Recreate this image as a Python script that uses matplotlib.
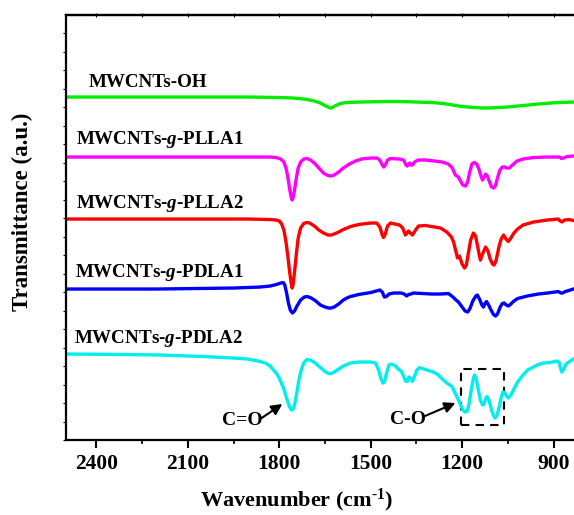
import matplotlib
matplotlib.use("Agg")
import matplotlib.pyplot as plt
from matplotlib.ticker import MultipleLocator
from matplotlib.patches import Rectangle

plt.rcParams['font.family'] = 'Liberation Serif'
plt.rcParams['font.weight'] = 'bold'
plt.rcParams['mathtext.fontset'] = 'custom'
plt.rcParams['mathtext.rm'] = 'Liberation Serif:bold'
plt.rcParams['mathtext.it'] = 'Liberation Serif:italic:bold'
plt.rcParams['mathtext.bf'] = 'Liberation Serif:bold'

# spectra: wavenumber (cm-1) and offset transmittance (a.u.)
wn_oh = [2500, 2300, 2100, 1900, 1800, 1754, 1720, 1690, 1665, 1650, 1640, 1632, 1625, 1615, 1600, 1580, 1534,
         1450, 1400, 1350, 1300, 1261, 1230, 1200, 1160, 1130, 1100, 1050, 1000, 950, 900, 835, 820]
t_oh = [343, 343, 343, 343, 342.5, 342, 341, 339.5, 337, 334.5, 333, 332, 332.5, 334.5, 336.5, 337.5, 338,
        338.5, 338.5, 338, 337.5, 336.5, 335, 333.5, 332.5, 332, 332.2, 333, 334.5, 336, 337.2, 338, 338]

wn_plla1 = [2500, 2200, 1900, 1830, 1810, 1795, 1785, 1778, 1772, 1766, 1761, 1758, 1755, 1750, 1744, 1738, 1730,
            1720, 1710, 1700, 1685, 1670, 1655, 1640, 1630, 1620, 1605, 1590, 1570, 1550, 1530, 1500, 1480, 1470,
            1462, 1457, 1452, 1445, 1435, 1405, 1392, 1384, 1380, 1376, 1372, 1368, 1363, 1356, 1345, 1320, 1290,
            1265, 1245, 1232, 1222, 1217, 1212, 1205, 1198, 1189, 1182, 1175, 1168, 1160, 1152, 1145, 1138, 1133,
            1128, 1123, 1117, 1110, 1103, 1097, 1091, 1084, 1076, 1068, 1060, 1052, 1045, 1035, 1020, 1000, 966,
            920, 880, 874, 868, 855, 835, 820]
t_plla1 = [283, 283, 283, 283, 282.5, 281, 278, 272, 263, 251, 243, 240, 242, 250, 262, 272, 278,
           281, 281.5, 280.5, 277, 272, 267, 264.5, 264, 265, 268, 272, 276, 279, 281, 282, 282, 280,
           275, 273, 275, 280, 281.5, 281, 280, 275, 274, 276, 277, 275, 275, 278, 280, 280, 279,
           278, 276, 272, 265, 264, 263, 259, 255, 254, 258, 268, 276, 277.5, 276, 271, 264, 260,
           263, 266, 264, 258, 253, 252, 254, 262, 270, 273, 273, 272, 272, 275, 279, 281, 282.5,
           283, 283, 281.5, 282, 283.5, 284, 284]

wn_plla2 = [2500, 2200, 1900, 1830, 1810, 1800, 1792, 1785, 1778, 1772, 1766, 1761, 1758, 1755, 1750, 1744, 1738,
            1730, 1720, 1710, 1700, 1685, 1670, 1655, 1640, 1630, 1620, 1605, 1590, 1566, 1540, 1500, 1480, 1470,
            1462, 1458, 1452, 1445, 1435, 1405, 1395, 1386, 1381, 1376, 1370, 1363, 1355, 1343, 1320, 1290, 1271,
            1250, 1235, 1228, 1220, 1215, 1209, 1200, 1192, 1186, 1180, 1172, 1163, 1156, 1150, 1143, 1140, 1133,
            1123, 1115, 1108, 1100, 1095, 1089, 1080, 1072, 1064, 1056, 1048, 1040, 1030, 1018, 1000, 966, 920,
            884, 878, 872, 864, 850, 835, 820]
t_plla2 = [221, 221, 221, 220.5, 220, 219, 216, 210, 198, 184, 168, 157, 152, 155, 168, 186, 202,
           212, 216.5, 217.5, 217, 214, 210, 207, 205, 205, 206, 208, 210.5, 213.5, 215.5, 217, 217, 213,
           205, 202.5, 206, 214, 217, 215, 212, 205, 207, 209, 207, 205, 209, 214, 214.5, 213, 212,
           208, 203, 198, 188, 182, 184, 176, 172, 175, 186, 200, 207, 204, 195, 184, 180, 186,
           193, 189, 181, 176, 175, 179, 192, 201, 205, 201, 198.5, 202, 207, 211, 215, 218, 220,
           221, 219, 218, 220, 220.5, 219.5, 219.5]

wn_pdla1 = [2500, 2200, 1950, 1862, 1830, 1810, 1795, 1787, 1782, 1776, 1770, 1764, 1757, 1750, 1742, 1730, 1718,
            1708, 1695, 1680, 1665, 1650, 1638, 1630, 1620, 1605, 1590, 1575, 1566, 1540, 1500, 1470, 1462, 1455,
            1448, 1440, 1425, 1400, 1390, 1382, 1376, 1368, 1360, 1330, 1300, 1270, 1245, 1230, 1220, 1212, 1200,
            1190, 1182, 1175, 1165, 1155, 1150, 1143, 1135, 1130, 1124, 1120, 1113, 1105, 1097, 1090, 1084, 1075,
            1068, 1062, 1055, 1048, 1040, 1030, 1018, 986, 950, 920, 884, 876, 870, 862, 850, 835, 820]
t_pdla1 = [151, 151, 152, 153, 154, 155.5, 157, 157.5, 155, 147, 137, 130, 127, 129, 134, 140, 143,
           143.5, 142, 139, 135, 133, 132, 132, 133, 136, 140, 142.5, 143.5, 145.5, 147.5, 150, 148, 143,
           143.5, 146, 147, 147, 146, 144, 145.5, 146, 147, 146.5, 146, 146, 146.5, 143, 140, 138, 133,
           129, 128, 131, 139, 144, 145, 141, 135, 133, 137, 138.5, 135, 130, 125.5, 124, 126, 133,
           136.5, 137, 135, 134, 136, 139, 141.5, 144, 146, 147, 148.5, 147, 147, 148.5, 149.5, 151, 152]

wn_pdla2 = [2500, 2300, 2190, 2050, 1950, 1904, 1870, 1845, 1830, 1819, 1808, 1800, 1792, 1786, 1780, 1773, 1766,
            1760, 1755, 1750, 1745, 1740, 1735, 1728, 1720, 1710, 1700, 1692, 1680, 1665, 1650, 1638, 1630, 1620,
            1605, 1590, 1566, 1540, 1500, 1484, 1474, 1466, 1460, 1455, 1448, 1440, 1432, 1420, 1410, 1400, 1392,
            1386, 1380, 1375, 1370, 1363, 1356, 1348, 1340, 1330, 1320, 1305, 1294, 1280, 1265, 1250, 1240, 1232,
            1225, 1218, 1212, 1205, 1198, 1190, 1184, 1178, 1170, 1163, 1159, 1154, 1148, 1140, 1133, 1128, 1122,
            1118, 1112, 1105, 1098, 1092, 1086, 1079, 1072, 1066, 1060, 1054, 1048, 1040, 1030, 1018, 1000, 985,
            966, 950, 933, 910, 890, 882, 877, 873, 868, 860, 850, 835, 820]
t_pdla2 = [86, 85.5, 85, 83.5, 82, 81, 79, 77, 74, 70, 66, 62, 56, 52, 46, 39, 33,
           30, 30.5, 35, 43, 52, 61, 70, 77, 80.5, 80, 79, 76.5, 72.5, 68.5, 66.5, 66.5, 68,
           71, 74, 77, 78, 78, 77, 70, 61, 57, 58, 67, 75, 76, 74.5, 71, 69, 64,
           59, 58.5, 63, 62, 58.5, 64, 70, 72.5, 71.5, 70.5, 69, 68, 65.5, 61, 57, 55, 53,
           48, 44, 40, 35, 30, 28, 28.5, 35, 50, 62, 65, 62, 52, 40, 35, 36, 42,
           43.5, 40, 32, 25, 22, 24, 32, 42, 48, 47.5, 44, 42, 45, 51, 58, 65, 70,
           73, 75.5, 77, 77.5, 79, 78, 72, 68, 70, 75.5, 78, 81, 82]

names = ['MWCNTs-OH', 'MWCNTs-$g$-PLLA1', 'MWCNTs-$g$-PLLA2', 'MWCNTs-$g$-PDLA1', 'MWCNTs-$g$-PDLA2']
colors = ['#00ee00', '#ff00ff', '#ff0000', '#0000ff', '#00eeee']
spectra = [(wn_oh, t_oh), (wn_plla1, t_plla1), (wn_plla2, t_plla2), (wn_pdla1, t_pdla1), (wn_pdla2, t_pdla2)]
label_pos = [(2426, 358), (2466, 301), (2466, 237), (2472, 168), (2475, 102)]

fig = plt.figure(figsize=(5.74, 5.15), dpi=100)
ax = fig.add_axes([0.115, 0.1456, 0.8918, 0.8252])

for (wn, t), color, name, (lx, ly) in zip(spectra, colors, names, label_pos):
    ax.plot(wn, t, color=color, lw=2.4, solid_joinstyle='round', solid_capstyle='round')
    ax.text(lx, ly, name, fontsize=13.7, fontweight='bold', va='center', ha='left')

# peak annotations
arrow = dict(arrowstyle='-|>', color='black', lw=1.5, mutation_scale=16, shrinkA=0, shrinkB=0)
ax.text(1921, 20, 'C=O', fontsize=14, fontweight='bold', ha='center', va='center')
ax.annotate('', xy=(1790, 36), xytext=(1858, 22), arrowprops=arrow)
ax.text(1379, 21, 'C-O', fontsize=14, fontweight='bold', ha='center', va='center')
ax.annotate('', xy=(1222, 37), xytext=(1322, 24), arrowprops=arrow)
ax.add_patch(Rectangle((1205, 15), 1064 - 1205, 56, fill=False, ls=(0, (4, 3)), lw=1.5, ec='black'))

ax.set_xlim(2500, 820)
ax.set_ylim(0, 425)
ax.xaxis.set_major_locator(MultipleLocator(300))
ax.xaxis.set_minor_locator(MultipleLocator(150))
ax.yaxis.set_major_locator(MultipleLocator(18.5))
ax.tick_params(axis='x', which='major', direction='out', length=6, width=1.5, labelsize=15.5, pad=4)
ax.tick_params(axis='x', which='minor', direction='out', length=3, width=1.2)
ax.tick_params(axis='y', which='major', direction='out', length=2, width=0.8, labelleft=False)
for s in ax.spines.values():
    s.set_linewidth(1.6)
for lab in ax.get_xticklabels():
    lab.set_fontweight('bold')

top = ax.secondary_xaxis('top')
top.xaxis.set_major_locator(MultipleLocator(150))
top.tick_params(direction='inout', length=3, width=0.8, labeltop=False)
top.spines['top'].set_linewidth(1.6)

ax.set_xlabel(r'Wavenumber (cm$^{\text{-1}}$)', fontsize=16, fontweight='bold')
ax.xaxis.set_label_coords(0.451, -0.11)
ax.set_ylabel('Transmittance (a.u.)', fontsize=16.5, fontweight='bold')
ax.yaxis.set_label_coords(-0.064, 0.536)

fig.savefig('out.png', dpi=100)
